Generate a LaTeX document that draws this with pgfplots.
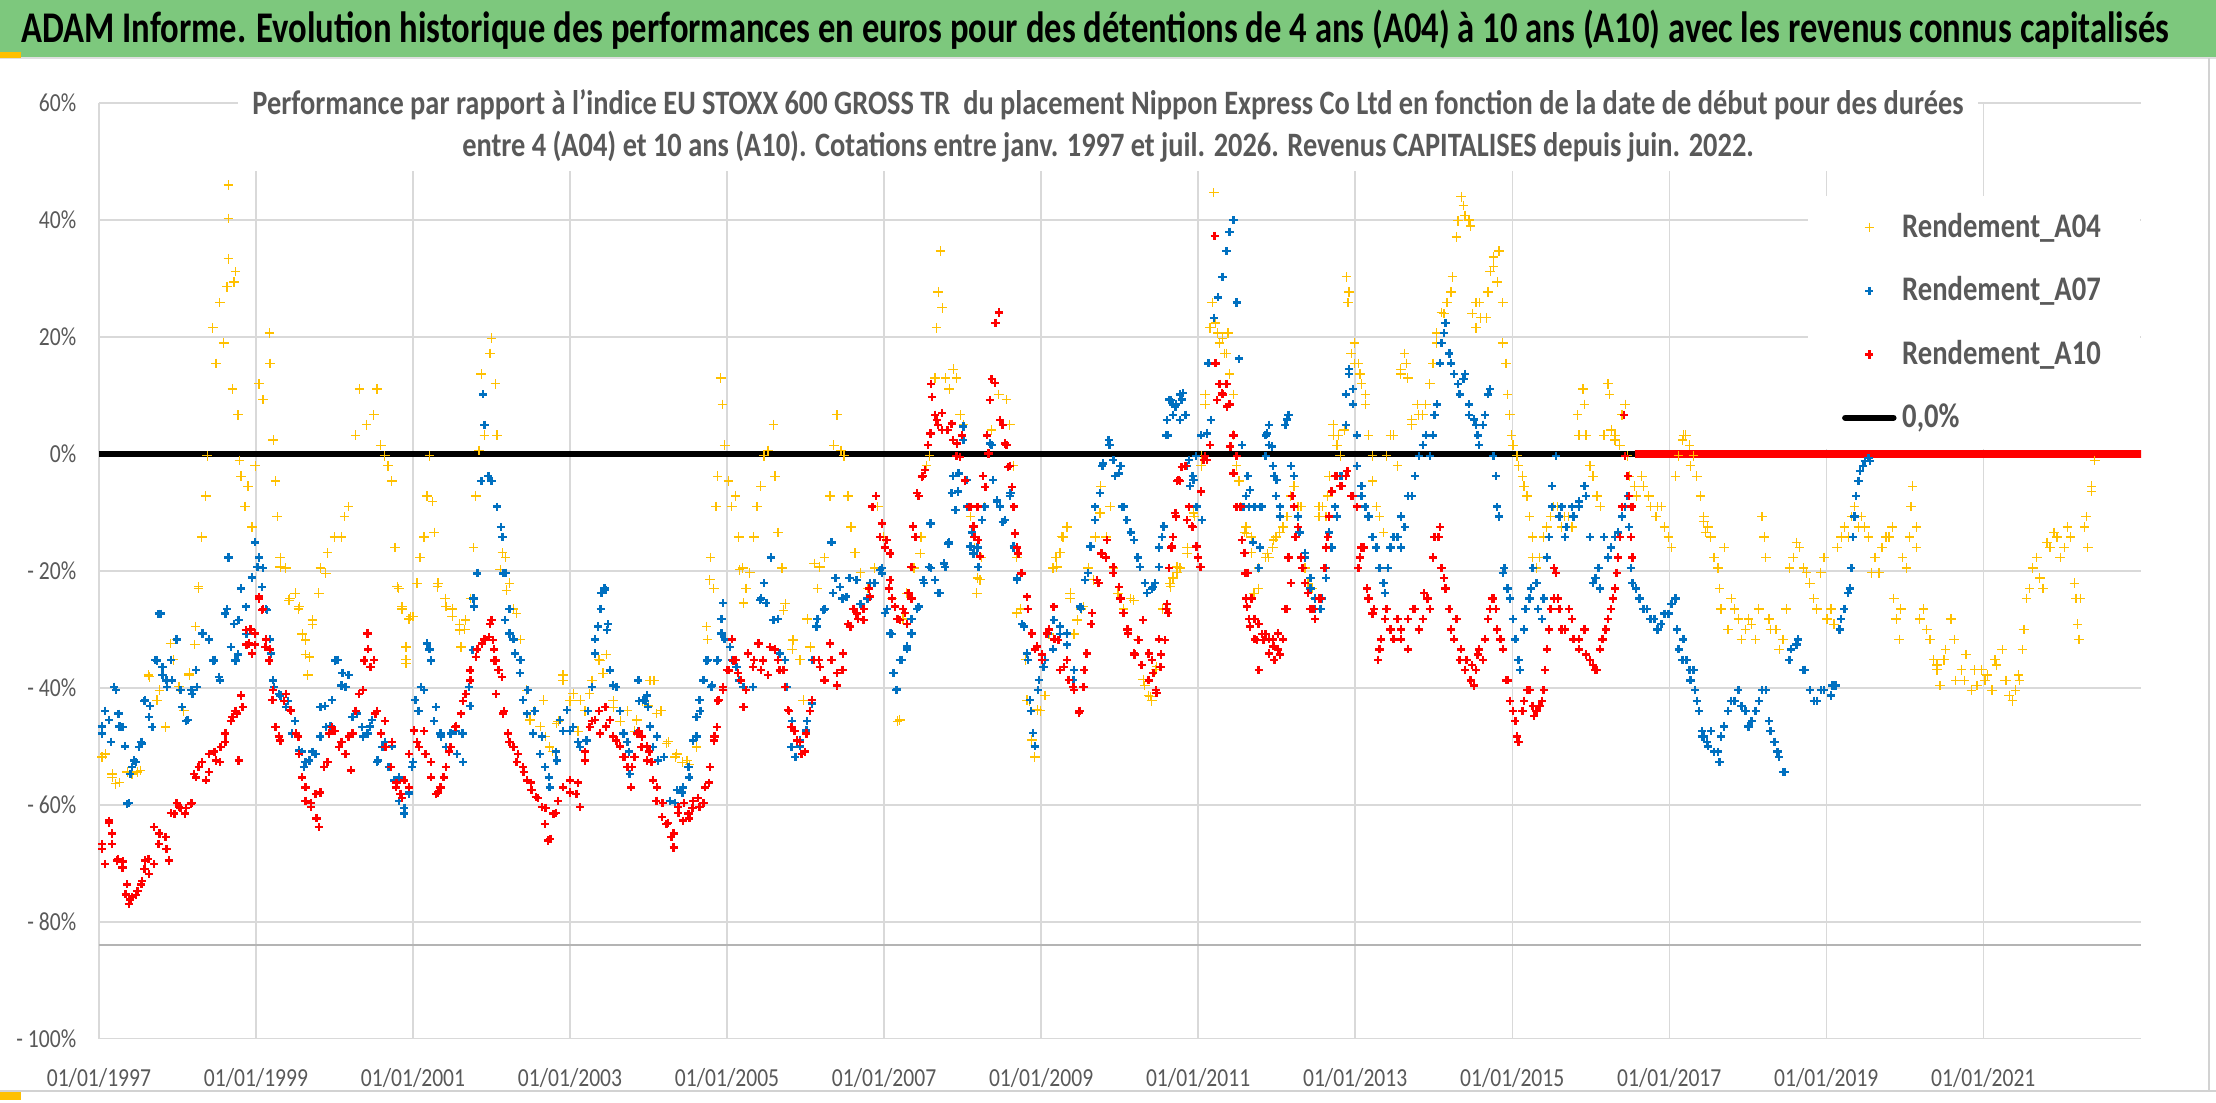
\documentclass[border=0pt]{standalone}
\usepackage{fontspec}
\setmainfont{Carlito}[FakeStretch=0.83]
\newfontfamily\titlefont{Carlito}[FakeStretch=0.79]
\usepackage{pgfplots}
\pgfplotsset{compat=1.18}
\definecolor{titlegreen}{RGB}{125,200,125}
\definecolor{tickgray}{RGB}{89,89,89}
\definecolor{gridgray}{RGB}{217,217,217}
\definecolor{aYellow}{RGB}{255,192,0}
\definecolor{aBlue}{RGB}{0,112,192}
\definecolor{aRed}{RGB}{255,0,0}
\definecolor{axisgray}{RGB}{180,180,180}
\begin{document}
\begin{tikzpicture}
\begin{scope}[x=0.5pt,y=-0.5pt]
\useasboundingbox (0,0) rectangle (1568,780);
\fill[white] (0,0) rectangle (1568,780);
\fill[titlegreen] (0,0) rectangle (1568,40);
\draw[gray!25, line width=1pt] (0,41) -- (1568,41);
\fill[aYellow] (0,37) rectangle (15,41);
\draw[gray!35, line width=0.8pt] (1563,41) -- (1563,772);
\draw[gray!35, line width=0.8pt] (0,772) -- (1568,772);
\fill[aYellow] (0,773) rectangle (15,778);
\node[font=\titlefont\bfseries\fontsize{15.5pt}{18pt}\selectfont, text=black] at (775,21) {ADAM Informe. Evolution historique des performances en euros pour des détentions de 4 ans (A04) à 10 ans (A10) avec les revenus connus capitalisés};
\end{scope}
\begin{axis}[
  at={(35pt,-367.5pt)}, anchor=south west,
  scale only axis, width=722.5pt, height=331pt,
  xmin=1997, xmax=2023.01, ymin=-100, ymax=60,
  xtick={1997,1999,2001,2003,2005,2007,2009,2011,2013,2015,2017,2019,2021},
  xticklabels={01/01/1997,01/01/1999,01/01/2001,01/01/2003,01/01/2005,01/01/2007,01/01/2009,01/01/2011,01/01/2013,01/01/2015,01/01/2017,01/01/2019,01/01/2021},
  ytick={-100,-80,-60,-40,-20,0,20,40,60},
  yticklabels={- 100\%,- 80\%,- 60\%,- 40\%,- 20\%,0\%,20\%,40\%,60\%},
  grid=major, major grid style={gridgray, line width=0.5pt},
  axis line style={draw=none}, tick style={draw=none},
  ticklabel style={font=\fontsize{9.2pt}{11pt}\selectfont, text=tickgray},
  yticklabel style={xshift=-4.5pt},
  xticklabel style={yshift=-7pt},
  legend style={at={(0.8367,0.901)}, anchor=north west, draw=none, fill=white,
    font=\bfseries\fontsize{12.2pt}{14pt}\selectfont, text=tickgray,
    inner xsep=12pt, inner ysep=4pt, row sep=8.4pt, cells={anchor=west}},
]
\addplot[black, line width=2.2pt, forget plot] coordinates {(1997,0) (2023.01,0)};
\addplot[axisgray, line width=0.8pt, forget plot] coordinates {(1997,-84) (2023.01,-84)};
% A04
\addplot[only marks, mark=+, mark size=1.7pt, color=aYellow, mark options={line width=0.45pt}] coordinates {
(1997.04,-51.8) (1997.17,-55.3) (1997.26,-56.2) (1997.36,-54.4) (1997.49,-54.4)
(1997.63,-37.8) (1997.77,-40.4)
(1997.95,-35.2) (1997.99,-31.7) (1998.08,-43.9) (1998.15,-37.8) (1998.22,-32.6)
(1998.27,-23.0) (1998.31,-14.2) (1998.36,-7.2) (1998.38,-0.3)
(1998.45,21.6) (1998.49,15.5) (1998.54,25.9) (1998.59,19.0) (1998.63,28.6) (1998.65,46.0) (1998.65,40.3) (1998.65,33.4) (1998.70,11.1) (1998.72,29.4) (1998.74,31.2) (1998.77,6.7) (1998.79,-1.1)
(1998.81,-3.8) (1998.86,-9.0) (1998.90,-5.5) (1998.95,-12.5) (1998.99,-2.0)
(1999.04,12.0) (1999.09,9.3) (1999.17,20.7) (1999.18,15.5) (1999.22,2.4) (1999.25,-4.6)
(1999.27,-10.7) (1999.31,-17.7) (1999.38,-19.5) (1999.43,-24.7) (1999.50,-23.8) (1999.54,-26.5) (1999.59,-30.8) (1999.63,-34.3) (1999.66,-37.8)
(1999.72,-29.1) (1999.82,-19.5) (1999.91,-16.9) (2000.00,-14.2) (2000.09,-14.2) (2000.13,-10.7)
(2000.18,-9.0) (2000.27,3.2) (2000.32,11.1) (2000.41,5.0) (2000.50,6.7) (2000.54,11.1) (2000.59,1.5) (2000.64,-0.3) (2000.68,-2.0) (2000.73,-4.6)
(2000.77,-16.0) (2000.82,-23.0) (2000.86,-26.5) (2000.91,-35.2) (2000.95,-28.2) (2001.00,-27.8)
(2001.05,-22.1) (2001.09,-17.7) (2001.14,-14.2) (2001.18,-7.2) (2001.21,-0.3) (2001.25,-8.1) (2001.27,-13.4)
(2001.32,-22.1) (2001.41,-24.7) (2001.50,-26.5) (2001.59,-29.1) (2001.66,-30.0) (2001.73,-24.7)
(2001.77,-16.0) (2001.80,-7.2) (2001.84,0.6) (2001.87,13.7) (2001.91,3.2) (2001.98,17.2) (2002.00,19.8) (2002.05,12.0) (2002.07,3.2)
(2002.14,-16.9) (2002.18,-17.7) (2002.23,-22.1) (2002.28,-26.5) (2002.37,-31.7)
(2002.45,-40.4) (2002.55,-43.9) (2002.62,-46.6) (2002.69,-48.3) (2002.78,-50.9) (2002.85,-45.7) (2002.91,-37.8) (2003.00,-42.2)
(2003.10,-47.4) (2003.19,-43.9) (2003.28,-38.7) (2003.37,-35.2) (2003.46,-34.3) (2003.55,-42.2) (2003.64,-45.7) (2003.73,-43.9) (2003.82,-47.4) (2003.92,-42.2) (2004.00,-43.1)
(2004.07,-38.7) (2004.16,-43.9)
(2004.25,-49.2) (2004.34,-51.8) (2004.43,-52.7) (2004.52,-53.1) (2004.61,-50.0)
(2004.75,-31.7) (2004.79,-17.7) (2004.83,-23.0) (2004.86,-9.0) (2004.88,-3.8) (2004.92,13.0) (2004.94,8.5) (2004.97,1.5) (2005.02,-4.6)
(2005.06,-9.0) (2005.11,-7.2) (2005.15,-14.2) (2005.20,-19.5) (2005.24,-23.0) (2005.29,-20.3)
(2005.34,-14.2) (2005.38,-9.0) (2005.43,-5.5) (2005.47,-0.3) (2005.52,0.6) (2005.59,5.0) (2005.61,-3.8) (2005.65,-13.4)
(2005.70,-19.5) (2005.74,-25.6) (2005.83,-33.4) (2005.93,-35.2) (2006.02,-28.2) (2006.11,-18.7)
(2006.15,-23.0) (2006.24,-17.7) (2006.31,-7.2) (2006.36,1.5) (2006.40,6.7) (2006.45,0.6) (2006.49,-0.3) (2006.54,-7.2) (2006.58,-12.5) (2006.63,-16.9)
(2006.70,-20.3) (2006.79,-23.0) (2006.88,-19.5) (2006.92,-9.0) (2006.99,-14.2)
(2007.10,-24.7) (2007.17,-45.7) (2007.24,-28.2) (2007.29,-23.8)
(2007.38,-19.5) (2007.47,-14.2) (2007.54,-2.0) (2007.58,-0.3) (2007.65,13.0) (2007.67,21.6) (2007.69,27.7) (2007.72,34.7) (2007.74,25.0) (2007.78,13.0) (2007.83,11.1) (2007.88,14.5) (2007.92,13.0) (2007.97,6.7)
(2008.01,5.0) (2008.10,-10.7) (2008.15,-16.0) (2008.19,-21.2) (2008.24,-17.7) (2008.28,-9.0) (2008.37,4.1) (2008.46,10.2) (2008.56,9.3) (2008.60,5.0) (2008.65,-2.0)
(2008.69,-17.7) (2008.74,-26.5) (2008.80,-35.2) (2008.85,-42.2) (2008.92,-51.8) (2008.99,-43.9) (2009.05,-41.3) (2009.10,-30.8)
(2009.15,-19.5) (2009.19,-17.7) (2009.24,-16.9) (2009.28,-14.2) (2009.33,-12.5) (2009.37,-24.7) (2009.42,-30.8) (2009.51,-26.5)
(2009.60,-19.5) (2009.69,-14.2) (2009.76,-5.5) (2009.83,-14.2) (2009.92,-19.5) (2009.98,-23.8)
(2010.05,-26.5) (2010.14,-24.7) (2010.23,-31.7) (2010.32,-39.6) (2010.37,-41.3) (2010.46,-36.9) (2010.55,-26.5) (2010.64,-22.1) (2010.73,-20.3)
(2010.41,-42.2) (2010.59,-26.5) (2010.68,-21.2) (2010.77,-19.5) (2010.86,-16.0) (2010.95,-10.7) (2011.04,-2.0) (2011.09,10.2)
(2011.18,25.9) (2011.22,22.4) (2011.20,44.7) (2011.27,19.0) (2011.31,19.8) (2011.36,17.2) (2011.40,13.7) (2011.45,3.2) (2011.49,-2.0)
(2011.54,-9.0) (2011.59,-13.4) (2011.68,-16.9) (2011.77,-23.0)
(2011.86,-17.7) (2011.95,-16.0) (2012.04,-13.4) (2012.13,-10.7) (2012.22,-5.5) (2012.31,-9.0)
(2012.40,-22.1) (2012.49,-24.7) (2012.54,-9.0) (2012.58,-9.0) (2012.63,-10.7) (2012.67,-3.8)
(2012.72,5.0) (2012.77,1.5) (2012.81,-0.3) (2012.86,4.1) (2012.89,30.3) (2012.91,25.9) (2012.95,17.2)
(2012.99,19.0) (2013.04,15.5) (2013.08,12.0) (2013.13,8.5) (2013.17,3.2) (2013.22,-4.6) (2013.27,-9.0)
(2013.36,-13.4) (2013.45,3.2) (2013.54,-2.0) (2013.58,14.5) (2013.63,17.2) (2013.67,13.0)
(2013.72,5.9) (2013.81,6.7) (2013.90,8.5) (2013.99,15.5) (2014.04,20.7)
(2014.13,24.0) (2014.22,27.7) (2014.29,37.1) (2014.35,44.0) (2014.40,40.8) (2014.45,40.0) (2014.49,24.0)
(2014.54,21.6) (2014.58,25.9) (2014.67,23.3) (2014.72,31.2) (2014.76,32.1) (2014.83,34.7) (2014.88,25.9) (2014.92,15.5)
(2014.97,6.7) (2015.01,1.5) (2015.08,-2.0) (2015.15,-5.5) (2015.22,-10.7)
(2015.26,-17.7) (2015.31,-19.5) (2015.40,-14.2) (2015.49,-10.7) (2015.58,-9.0)
(2015.67,-10.7) (2015.76,-12.5) (2015.85,3.2) (2015.90,11.1) (2015.94,3.2) (2016.03,-3.8)
(2016.12,-9.0) (2016.22,12.0) (2016.26,4.1) (2016.31,2.4) (2016.40,6.7) (2016.44,8.5) (2016.49,-3.8)
(2016.58,-7.2) (2016.67,-5.5) (2016.76,-9.0) (2016.85,-9.0) (2016.94,-12.5) (2017.03,-16.0)
(2017.12,-0.3) (2017.21,3.2) (2017.31,-0.3) (2017.40,-7.2) (2017.49,-12.5)
(2017.18,3.2) (2017.27,-2.0) (2017.35,-3.8)
(2017.44,-11.6) (2017.53,-14.2) (2017.62,-19.5) (2017.66,-26.5) (2017.70,-16.0)
(2017.79,-24.7) (2017.88,-28.2) (2017.97,-30.0) (2018.05,-29.1) (2018.14,-26.5) (2018.18,-10.7) (2018.23,-17.7)
(2018.27,-28.2) (2018.36,-30.0) (2018.45,-31.7) (2018.53,-19.5) (2018.62,-15.1)
(2018.71,-19.5) (2018.79,-22.1) (2018.88,-26.5) (2018.97,-17.7) (2019.01,-28.2)
(2019.10,-29.1) (2019.19,-14.2) (2019.28,-14.2) (2019.36,-9.0) (2019.41,-12.5)
(2019.49,-12.5) (2019.58,-20.3) (2019.67,-20.3) (2019.76,-14.2) (2019.84,-12.5)
(2019.89,-28.2) (2019.93,-31.7) (2019.97,-17.7) (2020.06,-14.2) (2020.10,-5.5) (2020.15,-12.5) (2020.19,-28.2) (2020.28,-30.0)
(2020.37,-35.2) (2020.41,-36.1) (2020.45,-39.6) (2020.52,-33.4) (2020.59,-28.2) (2020.65,-38.7) (2020.72,-36.9) (2020.78,-34.3) (2020.85,-40.4) (2020.92,-39.6) (2020.98,-36.9)
(2021.05,-37.8) (2021.11,-40.4) (2021.17,-36.1) (2021.24,-33.4) (2021.29,-38.7) (2021.33,-41.3) (2021.41,-40.4) (2021.45,-37.8) (2021.50,-33.4)
(2021.55,-24.7) (2021.63,-19.5) (2021.72,-21.2) (2021.81,-15.1) (2021.90,-13.4)
(2021.98,-17.7) (2022.07,-12.5) (2022.16,-22.1) (2022.20,-29.1) (2022.24,-24.7) (2022.29,-12.5) (2022.33,-16.0) (2022.38,-6.4) (2022.42,-1.1)
(1997.08,-51.3) (1997.17,-54.7) (1997.21,-56.4) (1997.42,-54.7) (1997.53,-54.1)
(1997.64,-38.1) (1997.74,-42.1) (1997.85,-46.7) (1997.91,-32.4) (1998.02,-39.8) (1998.15,-37.5) (1998.23,-29.5) (1998.27,-22.7)
(1999.31,-19.3) (1999.42,-25.0) (1999.55,-26.1) (1999.63,-31.8) (1999.68,-34.7) (1999.72,-28.4) (1999.80,-23.8) (1999.89,-20.4)
(2000.80,-22.7) (2000.86,-26.1) (2000.91,-33.0) (2000.91,-35.8) (2000.97,-27.8)
(2001.31,-22.7) (2001.42,-26.1) (2001.50,-27.8) (2001.59,-30.1) (2001.61,-33.0) (2001.67,-28.4)
(2002.11,-19.8) (2002.19,-23.3) (2002.32,-27.3) (2002.49,-45.5) (2002.66,-42.1) (2002.74,-50.1) (2002.83,-46.1) (2002.91,-38.7)
(2003.04,-41.0) (2003.13,-42.1) (2003.25,-41.0) (2003.38,-35.3) (2003.42,-37.5) (2003.55,-43.3) (2003.85,-45.5) (2004.02,-38.7) (2004.10,-44.4)
(2004.23,-49.5) (2004.36,-51.3) (2004.49,-52.4) (2004.61,-50.1) (2004.74,-29.5) (2004.78,-21.5)
(2005.16,-19.8) (2005.21,-25.5) (2005.72,-26.7) (2005.84,-31.8) (2005.97,-42.1) (2006.06,-33.0) (2006.18,-19.3)
(2007.20,-45.5) (2007.46,-17.0) (2008.22,-21.5) (2008.18,-23.8)
(2008.69,-27.2) (2008.82,-42.1) (2008.88,-48.9) (2008.95,-43.8)
(2009.20,-19.3) (2009.26,-14.1) (2009.33,-12.4) (2009.37,-23.8) (2009.46,-28.4) (2009.54,-26.1) (2009.67,-21.5) (2009.75,-10.1) (2009.88,-9.0)
(2010.18,-25.0) (2010.30,-38.6) (2010.39,-41.5) (2010.47,-36.4) (2010.65,-22.7) (2010.73,-19.3) (2010.86,-17.0) (2010.94,-10.1)
(2011.62,-13.6) (2011.71,-23.8) (2011.88,-17.0) (2011.96,-14.7)
(2011.04,-0.3) (2011.09,8.5) (2011.15,21.6) (2011.25,20.7) (2011.34,17.2) (2011.38,20.7) (2011.45,10.2) (2011.52,-4.6) (2011.61,-12.5) (2011.68,-14.2) (2011.77,-19.5) (2011.90,-17.7) (2011.99,-14.2)
(2012.08,-12.5) (2012.18,-7.2) (2012.27,-9.0) (2012.36,-19.5) (2012.45,-23.0) (2012.54,-10.7) (2012.65,-7.2) (2012.72,3.2) (2012.79,3.2) (2012.92,27.7) (2012.99,15.5)
(2013.06,13.7) (2013.13,10.2) (2013.22,-0.3) (2013.31,-10.7) (2013.40,-0.3) (2013.49,3.2) (2013.58,13.7) (2013.65,15.5) (2013.72,5.0) (2013.79,8.5) (2013.86,6.7) (2013.95,12.0)
(2014.04,19.0) (2014.10,24.2) (2014.17,25.9) (2014.24,30.3) (2014.31,39.9) (2014.38,42.5) (2014.47,39.0) (2014.54,25.9) (2014.60,23.3) (2014.69,27.7) (2014.76,33.7) (2014.81,29.4) (2014.88,19.0) (2014.94,10.2) (2014.99,3.2)
(2015.06,-0.3) (2015.13,-3.8) (2015.19,-7.2) (2015.26,-14.2) (2015.35,-17.7) (2015.44,-12.5) (2015.53,-9.0) (2015.63,-12.5) (2015.72,-10.7) (2015.83,6.7) (2015.92,8.5) (2015.99,-2.0)
(2016.08,-7.2) (2016.17,3.2) (2016.24,10.2) (2016.31,3.2) (2016.37,1.5) (2016.47,-0.3) (2016.56,-5.5) (2016.65,-3.8) (2016.74,-7.2) (2016.83,-10.7) (2016.90,-9.0) (2016.99,-14.2)
(2017.08,-3.8) (2017.17,2.4) (2017.26,1.5) (2017.35,-3.8) (2017.44,-10.7)
(2017.46,-13.4) (2017.57,-17.7) (2017.64,-23.0) (2017.75,-30.0) (2017.83,-26.5) (2017.92,-31.7) (2018.01,-28.2) (2018.10,-31.7) (2018.21,-14.2) (2018.29,-30.0) (2018.40,-33.4) (2018.49,-26.5)
(2018.58,-17.7) (2018.66,-16.0) (2018.75,-20.3) (2018.84,-24.7) (2018.93,-20.3) (2019.06,-26.5) (2019.14,-16.0) (2019.23,-12.5) (2019.32,-10.7) (2019.45,-10.7) (2019.54,-14.2) (2019.62,-17.7)
(2019.71,-16.0) (2019.80,-14.2) (2019.86,-24.7) (2019.95,-26.5) (2020.02,-19.5) (2020.08,-9.0) (2020.15,-16.0) (2020.24,-26.5) (2020.32,-31.7) (2020.41,-36.9) (2020.50,-35.2) (2020.63,-31.7)
(2020.76,-38.7) (2020.89,-36.9) (2021.02,-38.7) (2021.15,-35.2) (2021.28,-38.7) (2021.37,-42.2) (2021.46,-38.7) (2021.52,-30.0) (2021.59,-23.0) (2021.68,-17.7) (2021.76,-23.0) (2021.85,-16.0)
(2021.94,-14.2) (2022.03,-16.0) (2022.11,-14.2) (2022.18,-24.7) (2022.22,-31.7) (2022.31,-10.7) (2022.38,-5.5)
};
\addlegendentry{Rendement\_A04}
% A07
\addplot[only marks, mark=+, mark size=1.45pt, color=aBlue, mark options={line width=0.85pt}] coordinates {
(1997.04,-46.6) (1997.08,-43.9) (1997.15,-49.2) (1997.22,-40.4) (1997.26,-46.6) (1997.33,-50.0)
(1997.38,-59.7) (1997.42,-53.5) (1997.47,-52.7) (1997.54,-49.2)
(1997.58,-42.2) (1997.65,-43.1) (1997.72,-35.2) (1997.79,-27.3) (1997.81,-37.8)
(1997.86,-38.7) (1997.92,-35.2) (1997.99,-31.7) (1998.04,-40.4) (1998.11,-45.7) (1998.18,-40.4) (1998.24,-36.9)
(1998.31,-30.8) (1998.40,-31.7) (1998.47,-35.2) (1998.54,-38.7) (1998.63,-26.5) (1998.65,-17.7) (1998.72,-29.1) (1998.77,-34.3) (1998.81,-23.0) (1998.88,-30.8)
(1998.95,-21.2) (1998.99,-15.1) (1999.04,-17.7) (1999.09,-19.5) (1999.13,-26.5) (1999.18,-31.7)
(1999.22,-38.7) (1999.31,-41.3) (1999.41,-42.2) (1999.50,-45.7) (1999.59,-50.9) (1999.63,-52.7)
(1999.72,-50.9) (1999.82,-48.3) (1999.88,-43.1) (1999.95,-46.6) (2000.04,-35.2) (2000.09,-39.6)
(2000.18,-37.8) (2000.27,-43.9) (2000.36,-48.3) (2000.45,-46.6) (2000.54,-52.7) (2000.64,-49.2) (2000.73,-50.0)
(2000.82,-55.3) (2000.89,-60.5) (2000.95,-57.9) (2001.00,-52.7)
(2001.07,-43.9) (2001.14,-40.4) (2001.21,-33.4) (2001.27,-45.7) (2001.36,-48.3) (2001.46,-50.9)
(2001.55,-47.4) (2001.64,-52.7) (2001.73,-43.1) (2001.77,-24.7) (2001.82,-20.3)
(2001.87,-4.6) (2001.89,10.2) (2001.91,5.0) (2001.96,-3.8) (2002.00,-4.6) (2002.07,-9.0) (2002.12,-12.5) (2002.14,-14.2) (2002.18,-20.3)
(2002.23,-26.5) (2002.28,-31.7) (2002.37,-35.2) (2002.46,-40.4) (2002.55,-43.9)
(2002.64,-48.3) (2002.73,-55.3) (2002.82,-50.9) (2002.91,-47.4) (2003.00,-47.4)
(2003.10,-49.2) (2003.23,-43.9) (2003.32,-31.7) (2003.39,-26.5) (2003.44,-23.0) (2003.48,-29.1) (2003.55,-39.6)
(2003.64,-43.9) (2003.73,-49.2) (2003.87,-47.4) (2003.96,-42.2)
(2003.75,-50.9) (2003.88,-42.2) (2003.98,-41.3) (2004.02,-46.6)
(2004.11,-48.3) (2004.20,-51.8) (2004.34,-59.7) (2004.43,-57.9) (2004.52,-55.3) (2004.61,-48.3) (2004.66,-43.9)
(2004.70,-38.7) (2004.75,-35.2) (2004.81,-39.6) (2004.88,-35.2) (2004.93,-28.2) (2004.97,-31.7)
(2005.06,-35.2) (2005.15,-38.7) (2005.24,-40.4) (2005.34,-35.2) (2005.43,-24.7) (2005.47,-22.1) (2005.56,-17.7) (2005.65,-28.2)
(2005.74,-35.2) (2005.83,-45.7) (2005.93,-50.0) (2006.02,-45.7) (2006.08,-35.2)
(2006.15,-28.2) (2006.24,-26.5) (2006.33,-15.1) (2006.38,-21.2) (2006.47,-24.7) (2006.56,-21.2) (2006.61,-26.5)
(2006.70,-25.6) (2006.79,-24.7) (2006.88,-22.1) (2006.97,-19.5) (2007.04,-26.5)
(2007.10,-30.8) (2007.15,-40.4) (2007.20,-35.2) (2007.29,-33.4) (2007.35,-28.2) (2007.42,-26.5)
(2007.51,-22.1) (2007.60,-19.5) (2007.69,-23.8) (2007.76,-18.7) (2007.83,-15.1)
(2007.88,-3.8) (2007.94,-6.4) (2008.01,2.4) (2008.06,-9.0) (2008.12,-13.4) (2008.19,-16.0)
(2008.28,-9.0) (2008.37,1.5) (2008.44,-8.1) (2008.51,-11.6) (2008.60,-7.2) (2008.65,-16.0)
(2008.69,-21.2) (2008.76,-29.1) (2008.83,-35.2) (2008.87,-43.9) (2008.92,-50.0) (2008.96,-40.4) (2009.05,-35.2)
(2009.15,-33.4) (2009.24,-30.8) (2009.33,-32.6) (2009.42,-36.9) (2009.51,-26.5)
(2009.60,-20.3) (2009.69,-9.0) (2009.78,-2.0) (2009.87,1.5) (2009.94,-3.8) (2010.01,-2.0)
(2010.05,-9.0) (2010.14,-13.4) (2010.23,-17.7) (2010.32,-22.1) (2010.41,-23.0) (2010.50,-16.0)
(2010.59,3.2) (2010.63,9.3) (2010.68,6.7)
(2010.72,8.5) (2010.79,9.3) (2010.86,-2.0) (2010.90,-5.5) (2010.97,-0.3)
(2011.04,3.2) (2011.13,15.5) (2011.20,23.3) (2011.25,26.8) (2011.31,30.3) (2011.36,34.7) (2011.40,38.0) (2011.45,40.0) (2011.49,25.9) (2011.52,16.3) (2011.56,1.5)
(2011.61,-7.2) (2011.65,-9.0) (2011.70,-15.1) (2011.77,-19.5) (2011.81,-9.0) (2011.86,-0.3) (2011.90,5.0)
(2011.95,-2.0) (2011.99,-7.2) (2012.04,-10.7) (2012.13,5.9) (2012.18,-2.0) (2012.22,-9.0) (2012.29,-13.4)
(2012.36,-17.7) (2012.43,-23.0) (2012.49,-26.5) (2012.58,-24.7) (2012.63,-19.5) (2012.67,-13.4)
(2012.74,-9.0) (2012.81,-3.8) (2012.88,10.2) (2012.92,14.5) (2012.97,8.5) (2013.02,-2.0)
(2013.08,-7.2) (2013.17,-10.7) (2013.27,-16.0) (2013.36,-22.1) (2013.45,-16.0) (2013.54,-14.2) (2013.58,-16.0)
(2013.63,-12.5) (2013.72,-7.2) (2013.81,-0.3) (2013.90,3.2) (2013.99,3.2) (2014.04,8.5)
(2014.08,15.5) (2014.13,20.7) (2014.20,17.2) (2014.26,13.7) (2014.33,10.2) (2014.40,13.7) (2014.45,8.5)
(2014.54,5.0) (2014.58,1.5) (2014.65,6.7) (2014.72,11.1) (2014.76,-0.3)
(2014.81,-9.0) (2014.88,-20.3) (2014.94,-23.0) (2015.01,-28.2) (2015.08,-35.2) (2015.15,-30.0) (2015.22,-24.7)
(2015.26,-19.5) (2015.31,-22.1) (2015.38,-28.2) (2015.44,-17.7) (2015.51,-5.5) (2015.56,-0.3)
(2015.60,-10.7) (2015.67,-14.2) (2015.76,-9.0) (2015.85,-8.1) (2015.94,-7.2) (2016.03,-22.1)
(2016.10,-19.5) (2016.17,-14.2) (2016.26,-16.0) (2016.35,-13.4) (2016.44,-9.0) (2016.49,-12.5)
(2016.53,-22.1) (2016.62,-24.7) (2016.72,-26.5) (2016.81,-28.2) (2016.90,-29.1) (2016.99,-27.3) (2017.08,-24.7)
(2017.12,-33.4) (2017.22,-35.2) (2017.31,-36.9) (2017.38,-43.9)
(2017.44,-48.3) (2017.53,-47.4) (2017.62,-50.9) (2017.66,-48.3) (2017.70,-46.6)
(2017.79,-42.2) (2017.88,-40.4) (2017.97,-43.9) (2018.05,-45.7) (2018.14,-42.2) (2018.23,-40.4)
(2018.27,-45.7) (2018.34,-49.2) (2018.40,-51.8) (2018.45,-54.4)
(2018.53,-35.2) (2018.62,-32.6) (2018.71,-36.9) (2018.79,-40.4) (2018.88,-42.2) (2018.97,-40.4) (2019.06,-41.3) (2019.12,-39.6)
(2019.17,-30.0) (2019.23,-26.5) (2019.30,-23.0) (2019.34,-14.2) (2019.38,-7.2) (2019.43,-2.9) (2019.49,-1.2) (2019.56,-1.2)
(1997.04,-47.8) (1997.13,-45.5) (1997.19,-39.8) (1997.25,-44.4) (1997.30,-46.7)
(1997.36,-59.8) (1997.40,-54.7) (1997.45,-52.4) (1997.51,-50.1) (1997.55,-49.5)
(1997.59,-42.1) (1997.64,-45.0) (1997.68,-46.7) (1997.74,-35.3) (1997.76,-27.3) (1997.81,-36.4)
(1997.87,-39.8) (1997.93,-38.7) (1997.99,-31.8) (1998.06,-43.3) (1998.13,-45.5) (1998.19,-41.0) (1998.25,-39.8)
(1998.32,-30.7) (1998.40,-31.8) (1998.46,-35.3) (1998.53,-38.1) (1998.61,-27.3) (1998.68,-33.0) (1998.74,-35.3)
(1998.78,-28.4) (1998.87,-26.1) (1998.95,-21.0) (1999.02,-19.3) (1999.08,-22.7) (1999.14,-26.7) (1999.19,-34.1)
(1999.23,-39.8) (1999.29,-41.0) (1999.38,-43.3) (1999.46,-47.8) (1999.55,-50.7) (1999.61,-53.5)
(1999.68,-52.4) (1999.76,-51.3) (1999.82,-43.3) (1999.89,-46.7) (1999.97,-42.1) (2000.01,-35.3) (2000.10,-37.5) (2000.14,-39.8) (2000.23,-45.0)
(2000.29,-44.4) (2000.35,-46.7) (2000.42,-47.8) (2000.48,-45.5) (2000.55,-52.4) (2000.61,-50.1) (2000.69,-53.5)
(2000.76,-55.8) (2000.82,-59.3) (2000.89,-61.5) (2000.95,-58.1) (2000.99,-53.5) (2001.03,-42.1) (2001.10,-39.8) (2001.18,-32.4) (2001.23,-35.3)
(2001.29,-43.3) (2001.35,-47.8) (2001.42,-50.1) (2001.48,-47.8) (2001.56,-51.3) (2001.63,-47.8)
(2001.71,-39.8) (2001.76,-33.5) (2001.78,-26.1) (2001.82,-20.4)
(2002.15,-20.4) (2002.17,-28.4) (2002.23,-30.7) (2002.30,-34.1) (2002.36,-37.5) (2002.40,-42.1) (2002.45,-44.4)
(2002.53,-47.8) (2002.62,-51.3) (2002.68,-53.5) (2002.74,-57.0) (2002.83,-52.4) (2002.87,-45.5) (2002.96,-43.8) (2003.04,-46.7) (2003.13,-50.1) (2003.21,-49.0)
(2003.28,-39.8) (2003.32,-34.1) (2003.36,-29.5) (2003.40,-23.8) (2003.45,-23.3) (2003.47,-30.1) (2003.51,-37.0) (2003.59,-39.8)
(2003.68,-47.8) (2003.76,-54.7) (2003.87,-38.7) (2003.93,-42.1) (2003.99,-43.3) (2004.06,-50.1) (2004.12,-52.4)
(2004.27,-59.3) (2004.36,-57.5) (2004.44,-57.0) (2004.51,-53.5) (2004.57,-49.0) (2004.61,-45.0) (2004.65,-42.1)
(2004.70,-38.7) (2004.74,-35.3) (2004.80,-39.8) (2004.87,-35.3) (2004.93,-30.7) (2004.95,-25.5) (2005.04,-33.0)
(2005.12,-36.4) (2005.21,-39.8) (2005.33,-39.8) (2005.42,-25.0) (2005.50,-25.5) (2005.59,-28.4) (2005.67,-34.1) (2005.76,-39.8)
(2005.82,-50.1) (2005.87,-51.8) (2005.93,-49.0) (2006.01,-47.3) (2006.08,-42.7)
(2006.14,-29.5) (2006.23,-26.7) (2006.35,-23.8) (2006.44,-22.7) (2006.52,-24.4) (2006.65,-21.5) (2006.82,-22.1) (2006.95,-19.8)
(2006.97,-20.4) (2007.01,-27.2) (2007.08,-30.7) (2007.12,-37.5) (2007.16,-40.3) (2007.23,-35.2) (2007.29,-32.9) (2007.35,-30.7)
(2007.44,-26.1) (2007.50,-21.5) (2007.57,-19.3) (2007.59,-11.9) (2007.65,-21.5) (2007.71,-23.8) (2007.78,-19.3) (2007.82,-15.3)
(2007.86,-6.7) (2007.91,-9.6) (2007.95,-3.3) (2008.01,4.7) (2008.05,-4.4) (2008.10,-15.8) (2008.14,-17.0) (2008.20,-19.3) (2008.25,-11.3)
(2008.35,1.8) (2008.39,-4.4) (2008.44,-7.9) (2008.48,-9.0) (2008.54,-11.3) (2008.61,-6.7) (2008.65,-15.8) (2008.69,-21.5)
(2008.78,-29.5) (2008.82,-34.1) (2008.86,-42.1) (2008.90,-47.7) (2008.92,-50.0) (2008.97,-38.6) (2009.03,-36.4) (2009.09,-30.7) (2009.16,-28.4)
(2009.24,-29.5) (2009.33,-30.7) (2009.41,-38.6) (2009.50,-26.1) (2009.56,-21.5) (2009.63,-15.8) (2009.69,-11.3) (2009.75,-6.7) (2009.79,-1.6) (2009.86,2.4) (2009.92,-1.0) (2009.99,-3.3)
(2010.03,-9.0) (2010.09,-11.3) (2010.18,-14.7) (2010.26,-19.3) (2010.35,-23.8) (2010.43,-22.7) (2010.50,-19.3) (2010.56,-12.4)
(2010.60,5.8) (2010.65,9.2) (2010.71,8.1) (2010.77,5.8) (2010.81,10.4) (2010.88,-1.0) (2010.94,-4.4) (2010.98,-9.0) (2011.05,-11.3)
(2011.11,3.5) (2011.16,5.8) (2011.58,-9.0) (2011.66,-6.2) (2011.79,-9.0) (2011.88,3.5) (2011.94,1.3) (2012.00,-4.4)
(2010.45,-22.1) (2010.54,-14.2) (2010.61,3.2) (2010.68,8.5) (2010.77,10.2) (2010.84,6.7) (2010.93,-3.8)
(2011.63,-3.8) (2011.72,-9.0) (2011.79,-16.0) (2011.86,3.2) (2011.90,1.5) (2011.97,-3.8) (2012.04,-9.0) (2012.11,5.0) (2012.15,6.7) (2012.22,-3.8) (2012.27,-10.7)
(2012.36,-16.9) (2012.43,-21.2) (2012.49,-24.7) (2012.56,-26.5) (2012.63,-21.2) (2012.70,-16.0) (2012.77,-10.7) (2012.83,-3.8) (2012.88,5.0) (2012.92,13.7) (2012.97,11.1) (2013.02,3.2)
(2013.08,-5.5) (2013.13,-9.0) (2013.22,-14.2) (2013.31,-19.5) (2013.38,-23.8) (2013.42,-19.5) (2013.49,-14.2) (2013.58,-10.7) (2013.67,-7.2) (2013.76,-3.8) (2013.86,1.5) (2013.95,-0.3) (2014.01,6.7)
(2014.10,19.0) (2014.15,22.4) (2014.22,15.5) (2014.31,12.0) (2014.38,12.8) (2014.45,6.7) (2014.51,5.9) (2014.56,3.2) (2014.63,5.0) (2014.69,10.2)
(2014.79,-3.8) (2014.83,-10.7) (2014.90,-19.5) (2014.97,-24.7) (2015.04,-31.7) (2015.10,-36.9) (2015.17,-26.5) (2015.24,-23.0) (2015.33,-26.5) (2015.40,-24.7) (2015.47,-14.2) (2015.51,-9.0)
(2015.63,-9.0) (2015.69,-12.5) (2015.78,-10.7) (2015.85,-9.0) (2015.92,-5.5) (2015.99,-14.2) (2016.06,-21.2) (2016.12,-23.0) (2016.22,-17.7) (2016.31,-14.2) (2016.40,-10.7) (2016.47,-7.2)
(2016.51,-19.5) (2016.58,-23.0) (2016.67,-26.5) (2016.76,-28.2) (2016.85,-30.0) (2016.94,-27.3) (2017.03,-25.6) (2017.10,-30.0) (2017.17,-35.2) (2017.26,-36.9) (2017.35,-42.2) (2017.42,-48.3) (2017.49,-50.0)
(2017.18,-31.7) (2017.27,-38.7) (2017.33,-40.4) (2017.42,-47.4) (2017.48,-49.2) (2017.57,-50.9) (2017.64,-52.7) (2017.75,-43.9) (2017.83,-42.2) (2017.92,-43.1) (2018.01,-46.6) (2018.10,-43.9)
(2018.18,-40.4) (2018.29,-47.4) (2018.38,-50.9) (2018.47,-54.4) (2018.55,-33.4) (2018.64,-31.7) (2018.73,-36.9) (2018.84,-42.2) (2018.93,-40.4) (2019.08,-39.6) (2019.19,-28.2) (2019.28,-23.8)
(2019.32,-19.5) (2019.36,-10.7) (2019.41,-4.6) (2019.47,-2.0) (2019.54,-0.7)
};
\addlegendentry{Rendement\_A07}
% A10
\addplot[only marks, mark=+, mark size=1.45pt, color=aRed, mark options={line width=0.85pt}] coordinates {
(1997.04,-67.5) (1997.13,-63.1) (1997.17,-64.9) (1997.24,-69.3) (1997.31,-69.7)
(1997.36,-73.6) (1997.40,-76.2) (1997.47,-75.4) (1997.54,-73.6) (1997.58,-71.0)
(1997.63,-69.3) (1997.70,-70.1) (1997.77,-64.9) (1997.86,-67.5) (1997.92,-61.4) (1997.99,-59.7) (1998.04,-60.5)
(1998.11,-60.5) (1998.18,-59.7) (1998.24,-55.3) (1998.31,-52.7) (1998.40,-54.4) (1998.47,-50.9)
(1998.54,-52.7) (1998.61,-49.2) (1998.68,-45.7) (1998.74,-43.9) (1998.81,-41.3) (1998.88,-32.6)
(1998.93,-30.0) (1998.99,-32.6) (1999.04,-24.7) (1999.09,-26.5) (1999.13,-31.7) (1999.18,-33.4)
(1999.22,-40.4) (1999.29,-48.3) (1999.36,-42.2) (1999.45,-43.9) (1999.54,-48.3) (1999.63,-57.0)
(1999.70,-59.7) (1999.77,-62.3) (1999.82,-57.9) (1999.91,-52.7) (2000.00,-47.4) (2000.09,-49.2)
(2000.18,-48.3) (2000.27,-43.9) (2000.36,-40.4) (2000.43,-33.4) (2000.50,-35.2) (2000.54,-43.9)
(2000.64,-45.7) (2000.73,-49.2) (2000.79,-56.2) (2000.86,-58.8) (2000.95,-57.0)
(2001.05,-49.2) (2001.14,-47.4) (2001.23,-52.7) (2001.32,-57.9) (2001.39,-55.3) (2001.46,-50.9)
(2001.55,-46.6) (2001.64,-42.2) (2001.73,-38.7) (2001.82,-33.4) (2001.91,-31.7) (2001.98,-29.1) (2002.03,-33.4)
(2002.09,-36.9) (2002.16,-43.9) (2002.23,-49.2) (2002.32,-52.7) (2002.41,-54.4) (2002.50,-56.2)
(2002.59,-58.8) (2002.69,-60.5) (2002.75,-65.8) (2002.82,-61.4) (2002.91,-57.0) (2003.00,-57.9)
(2003.10,-56.2) (2003.19,-50.9) (2003.28,-45.7) (2003.37,-43.9) (2003.46,-46.6) (2003.55,-48.3)
(2003.64,-50.0) (2003.73,-53.5) (2003.82,-51.8) (2003.92,-48.3) (2004.01,-50.9)
(2003.70,-51.8) (2003.79,-53.5) (2003.88,-47.4) (2003.98,-50.0) (2004.04,-52.7) (2004.11,-57.0)
(2004.18,-59.7) (2004.25,-63.1) (2004.32,-64.9) (2004.38,-61.4) (2004.45,-59.7) (2004.52,-62.3) (2004.56,-60.5)
(2004.63,-58.8) (2004.70,-59.7) (2004.77,-56.2) (2004.84,-48.3) (2004.88,-42.2) (2004.95,-40.4) (2005.00,-36.9)
(2005.06,-31.7) (2005.11,-35.2) (2005.18,-38.7) (2005.24,-40.4) (2005.34,-35.2) (2005.43,-36.9) (2005.52,-37.8) (2005.61,-33.4) (2005.65,-35.2)
(2005.72,-36.9) (2005.79,-43.9) (2005.86,-47.4) (2005.93,-49.2) (2005.99,-50.9) (2006.06,-43.9) (2006.11,-35.2)
(2006.17,-35.2) (2006.24,-38.7) (2006.33,-35.2) (2006.40,-39.6) (2006.47,-36.9) (2006.54,-29.1) (2006.61,-26.5)
(2006.67,-28.2) (2006.74,-26.5) (2006.81,-23.0) (2006.85,-9.0) (2006.90,-7.2) (2006.95,-14.2) (2007.01,-16.0) (2007.06,-23.0)
(2007.10,-24.7) (2007.17,-28.2) (2007.24,-26.5) (2007.29,-29.1) (2007.35,-24.7) (2007.40,-14.2) (2007.44,-7.2)
(2007.49,-3.8) (2007.56,1.5) (2007.60,12.0) (2007.65,6.7) (2007.69,5.0) (2007.74,4.1)
(2007.81,4.1) (2007.88,2.4) (2007.92,-0.3) (2007.99,3.2) (2008.03,-4.6) (2008.08,-9.0) (2008.15,-14.2) (2008.19,-9.0)
(2008.26,-3.8) (2008.31,3.2) (2008.37,12.8) (2008.42,22.4) (2008.46,24.2) (2008.51,5.0) (2008.56,1.5) (2008.60,-2.0) (2008.65,-9.0)
(2008.69,-16.0) (2008.76,-20.3) (2008.83,-26.5) (2008.92,-33.4) (2009.01,-34.3) (2009.10,-30.0)
(2009.17,-31.7) (2009.24,-36.9) (2009.33,-35.2) (2009.42,-40.4) (2009.49,-43.9) (2009.55,-36.9)
(2009.64,-29.1) (2009.73,-22.1) (2009.83,-17.7) (2009.92,-20.3) (2010.01,-24.7)
(2010.10,-30.0) (2010.19,-34.3) (2010.28,-36.1) (2010.37,-38.7) (2010.46,-40.4) (2010.53,-34.3) (2010.60,-25.6) (2010.66,-16.0) (2010.73,-4.6)
(2010.41,-35.2) (2010.50,-31.7) (2010.59,-26.5) (2010.63,-19.5) (2010.68,-14.2)
(2010.72,-10.7) (2010.77,-4.6) (2010.84,-2.0) (2010.88,-9.0) (2010.93,-12.5) (2011.00,-17.7) (2011.04,-6.4)
(2011.09,-0.3) (2011.15,1.5) (2011.21,37.3) (2011.22,15.5) (2011.27,12.0) (2011.31,10.2) (2011.36,12.0) (2011.40,8.5) (2011.45,3.2) (2011.49,-0.3)
(2011.54,-9.0) (2011.59,-16.9) (2011.63,-20.3) (2011.68,-24.7) (2011.72,-28.2)
(2011.77,-29.1) (2011.86,-30.8) (2011.95,-31.7) (2012.04,-34.3) (2012.13,-26.5) (2012.18,-22.1) (2012.22,-9.0) (2012.27,-12.5) (2012.31,-17.7)
(2012.36,-22.1) (2012.43,-26.5) (2012.49,-28.2) (2012.56,-24.7) (2012.63,-16.0) (2012.67,-10.7)
(2012.74,-3.8) (2012.81,-5.5) (2012.88,-3.8) (2012.95,-7.2) (2013.02,-9.0)
(2013.06,-17.7) (2013.11,-16.0) (2013.17,-24.7) (2013.24,-26.5) (2013.31,-33.4) (2013.38,-28.2) (2013.45,-30.0) (2013.54,-28.2) (2013.58,-31.7)
(2013.67,-28.2) (2013.76,-26.5) (2013.86,-28.2) (2013.92,-24.7) (2013.99,-17.7) (2014.06,-14.2) (2014.10,-19.5)
(2014.15,-23.0) (2014.22,-30.0) (2014.29,-28.2) (2014.35,-33.4) (2014.42,-35.2) (2014.49,-36.1)
(2014.54,-36.9) (2014.58,-33.4) (2014.65,-31.7) (2014.72,-26.5) (2014.76,-24.7)
(2014.81,-30.0) (2014.88,-33.4) (2014.94,-38.7) (2015.01,-43.9) (2015.06,-48.3) (2015.13,-43.9) (2015.19,-40.4) (2015.26,-43.1)
(2015.31,-43.9) (2015.38,-42.2) (2015.42,-36.9) (2015.47,-30.0) (2015.53,-24.7) (2015.56,-20.3)
(2015.60,-26.5) (2015.67,-30.0) (2015.76,-28.2) (2015.85,-31.7) (2015.94,-34.3) (2016.03,-36.1) (2016.08,-36.9)
(2016.15,-31.7) (2016.22,-28.2) (2016.28,-24.7) (2016.33,-20.3) (2016.37,-14.2) (2016.42,6.7) (2016.44,-0.3) (2016.49,-7.2) (2016.51,-14.2) (2016.53,-9.0)
(1997.04,-66.7) (1997.13,-62.7) (1997.17,-66.7) (1997.08,-70.1) (1997.23,-69.5) (1997.30,-70.7)
(1997.34,-75.3) (1997.38,-77.0) (1997.42,-75.8) (1997.49,-74.7) (1997.55,-73.0) (1997.59,-69.5) (1997.64,-71.8)
(1997.70,-63.8) (1997.76,-66.7) (1997.85,-65.5) (1997.89,-69.5) (1997.96,-61.5) (1998.02,-60.4) (1998.10,-61.5) (1998.17,-59.8)
(1998.21,-54.7) (1998.27,-53.5) (1998.36,-55.8) (1998.40,-51.3)
(1998.49,-52.4) (1998.55,-50.1) (1998.61,-47.8) (1998.70,-45.0) (1998.76,-44.4) (1998.78,-52.4) (1998.83,-43.3)
(1998.87,-30.1) (1998.91,-32.4) (1998.95,-34.1) (1998.99,-30.7) (1999.04,-24.4) (1999.08,-26.7) (1999.12,-33.0) (1999.17,-35.3)
(1999.21,-42.1) (1999.25,-46.7) (1999.31,-49.0) (1999.38,-41.0) (1999.44,-43.8) (1999.51,-47.8) (1999.55,-51.3)
(1999.59,-55.3) (1999.63,-59.3) (1999.70,-60.4) (1999.76,-58.1) (1999.80,-63.8) (1999.87,-53.5) (1999.93,-47.8)
(1999.97,-46.7) (2000.06,-50.1) (2000.14,-51.3) (2000.21,-54.1) (2000.23,-47.8) (2000.31,-41.0)
(2000.38,-35.3) (2000.42,-30.7) (2000.46,-36.4) (2000.52,-44.4) (2000.59,-47.8) (2000.65,-50.1) (2000.72,-53.5)
(2000.78,-57.0) (2000.84,-58.1) (2000.89,-55.8) (2000.95,-51.3) (2001.01,-47.3)
(2001.08,-50.1) (2001.16,-51.3) (2001.23,-55.3) (2001.29,-58.1) (2001.35,-57.0) (2001.42,-53.5) (2001.48,-50.1)
(2001.54,-46.7) (2001.61,-44.4) (2001.67,-41.0) (2001.73,-37.0) (2001.80,-34.7) (2001.88,-32.4) (2001.97,-31.3) (2002.03,-35.3)
(2002.00,-28.4) (2002.02,-31.8) (2002.06,-35.3) (2002.13,-38.1) (2002.06,-41.0)
(2002.15,-44.4) (2002.21,-47.8) (2002.28,-50.1) (2002.34,-51.3) (2002.40,-53.5) (2002.45,-55.8)
(2002.51,-57.5) (2002.57,-58.7) (2002.64,-60.4) (2002.68,-63.3) (2002.72,-66.1) (2002.79,-61.5) (2002.85,-59.3) (2002.91,-57.0) (2003.00,-55.8) (2003.08,-58.1) (2003.13,-60.4)
(2003.19,-52.4) (2003.25,-46.7) (2003.32,-45.5) (2003.38,-47.8) (2003.45,-43.3) (2003.51,-45.5) (2003.59,-49.0) (2003.68,-51.8) (2003.74,-53.5) (2003.78,-57.0)
(2003.85,-47.8) (2003.91,-50.1) (2003.98,-52.4) (2004.06,-55.8) (2004.10,-59.3) (2004.17,-62.1) (2004.23,-63.3) (2004.29,-65.5) (2004.32,-67.3)
(2004.38,-60.4) (2004.44,-62.7) (2004.51,-61.5) (2004.57,-59.3) (2004.65,-60.4) (2004.72,-57.0) (2004.78,-53.5) (2004.83,-49.0) (2004.87,-46.7)
(2004.89,-42.1) (2004.95,-39.8) (2005.02,-37.0) (2005.08,-35.3) (2005.14,-37.5) (2005.21,-43.3)
(2005.27,-34.1) (2005.33,-36.4) (2005.40,-32.4) (2005.46,-35.3) (2005.55,-33.0) (2005.61,-33.5) (2005.67,-37.0) (2005.74,-39.8)
(2005.78,-43.8) (2005.82,-46.7) (2005.89,-49.0) (2005.95,-51.3) (2006.01,-47.8) (2006.08,-42.1)
(2006.18,-36.4) (2006.25,-38.7) (2006.31,-32.4) (2006.40,-37.5) (2006.48,-34.1) (2006.57,-29.5) (2006.65,-27.3) (2006.74,-28.4) (2006.82,-24.4)
(2006.97,-11.9) (2007.03,-14.7) (2007.08,-17.0) (2007.08,-21.5) (2007.14,-26.1) (2007.20,-28.4) (2007.27,-27.2) (2007.31,-23.8) (2007.35,-19.3)
(2007.37,-12.4) (2007.42,-6.7) (2007.48,-3.9) (2007.52,-2.7) (2007.59,3.5) (2007.61,9.8) (2007.67,5.8) (2007.74,7.0) (2007.80,4.1) (2007.86,5.2) (2007.93,1.8) (2007.97,-0.5)
(2008.03,-4.4) (2008.10,-9.0) (2008.14,-12.4) (2008.20,-14.7) (2008.22,-17.5) (2008.29,-5.6) (2008.33,0.1) (2008.35,9.2) (2008.41,12.1)
(2008.48,5.8) (2008.54,1.8) (2008.58,-2.2) (2008.63,-5.6) (2008.67,-13.6) (2008.71,-17.0) (2008.75,-20.4) (2008.82,-24.4) (2008.88,-30.7) (2008.95,-32.9) (2009.01,-35.2)
(2009.07,-30.7) (2009.16,-26.1) (2009.22,-31.8) (2009.29,-36.4) (2009.35,-38.6) (2009.41,-39.8) (2009.48,-44.3) (2009.54,-39.8) (2009.58,-34.1)
(2009.65,-27.2) (2009.71,-21.5) (2009.77,-17.0) (2009.84,-14.7) (2009.92,-19.3) (2009.99,-22.7) (2010.05,-27.2) (2010.11,-30.7) (2010.18,-34.1)
(2010.24,-31.8) (2010.30,-28.4) (2010.37,-34.1) (2010.43,-37.5) (2010.47,-40.9) (2010.52,-36.4) (2010.58,-31.8) (2010.62,-27.2)
(2010.67,-15.8) (2010.71,-10.1) (2010.75,-4.4) (2010.79,-2.2) (2010.86,-11.3) (2010.92,-12.4) (2010.98,-15.8) (2011.03,-19.3)
(2011.07,-1.0) (2011.11,-1.0) (2011.24,9.2) (2011.30,10.4) (2011.37,8.1) (2011.41,1.3) (2011.45,-3.3) (2011.49,-9.0)
(2011.56,-14.7) (2011.60,-20.4) (2011.62,-26.1) (2011.66,-29.5) (2011.75,-31.8) (2011.83,-31.8) (2011.90,-34.1) (2011.96,-32.9) (2012.02,-30.7)
(2011.61,-24.7) (2011.65,-28.2) (2011.72,-31.7) (2011.77,-36.9) (2011.81,-30.8) (2011.90,-31.7) (2011.97,-35.2) (2012.02,-33.4) (2012.08,-31.7) (2012.11,-26.5)
(2012.15,-17.7) (2012.20,-7.2) (2012.24,-14.2) (2012.33,-19.5) (2012.40,-23.8) (2012.47,-26.5) (2012.54,-24.7) (2012.61,-19.5) (2012.65,-14.2)
(2012.70,-6.4) (2012.77,-3.8) (2012.83,-5.5) (2012.90,-2.9) (2012.97,-7.2)
(2013.04,-19.5) (2013.08,-16.0) (2013.15,-23.0) (2013.22,-27.3) (2013.29,-35.2) (2013.33,-31.7) (2013.40,-26.5) (2013.49,-31.7) (2013.58,-30.0) (2013.67,-33.4) (2013.74,-26.5) (2013.81,-30.0) (2013.88,-23.8) (2013.95,-26.5) (2014.01,-14.2) (2014.08,-12.5) (2014.13,-21.2)
(2014.20,-26.5) (2014.26,-31.7) (2014.33,-35.2) (2014.40,-36.9) (2014.47,-38.7) (2014.51,-39.6) (2014.56,-34.3) (2014.63,-35.2) (2014.69,-28.2) (2014.74,-24.7)
(2014.79,-26.5) (2014.85,-31.7) (2014.92,-38.7) (2014.97,-42.2) (2015.04,-45.7) (2015.08,-49.2) (2015.15,-42.2) (2015.22,-40.4) (2015.28,-44.8) (2015.35,-43.1) (2015.40,-40.4) (2015.44,-33.4) (2015.49,-26.5) (2015.53,-19.5)
(2015.58,-24.7) (2015.63,-30.0) (2015.72,-26.5) (2015.78,-31.7) (2015.85,-33.4) (2015.92,-30.0) (2015.99,-35.2) (2016.06,-36.9) (2016.12,-33.4) (2016.19,-30.0) (2016.26,-26.5) (2016.31,-23.0) (2016.35,-17.7) (2016.40,-9.0) (2016.47,-3.8) (2016.51,-9.0) (2016.53,-17.7)
};
\addlegendentry{Rendement\_A10}
\addplot[aRed, line width=2.6pt, forget plot] coordinates {(2016.56,0) (2023.03,0)};
\addlegendimage{black, line width=2.2pt, line cap=round}
\addlegendentry{0,0\%}
\end{axis}
\begin{scope}[x=0.5pt,y=-0.5pt]
\node[fill=white, inner xsep=5pt, inner ysep=3pt, align=center, text=tickgray, font=\bfseries\fontsize{12.1pt}{15pt}\selectfont] at (784,89) {Performance par rapport à l'indice EU STOXX 600 GROSS TR~ du placement Nippon Express Co Ltd en fonction de la date de début pour des durées\\ entre 4 (A04) et 10 ans (A10). Cotations entre janv. 1997 et juil. 2026. Revenus CAPITALISES depuis juin. 2022.};
\end{scope}
\end{tikzpicture}
\end{document}
